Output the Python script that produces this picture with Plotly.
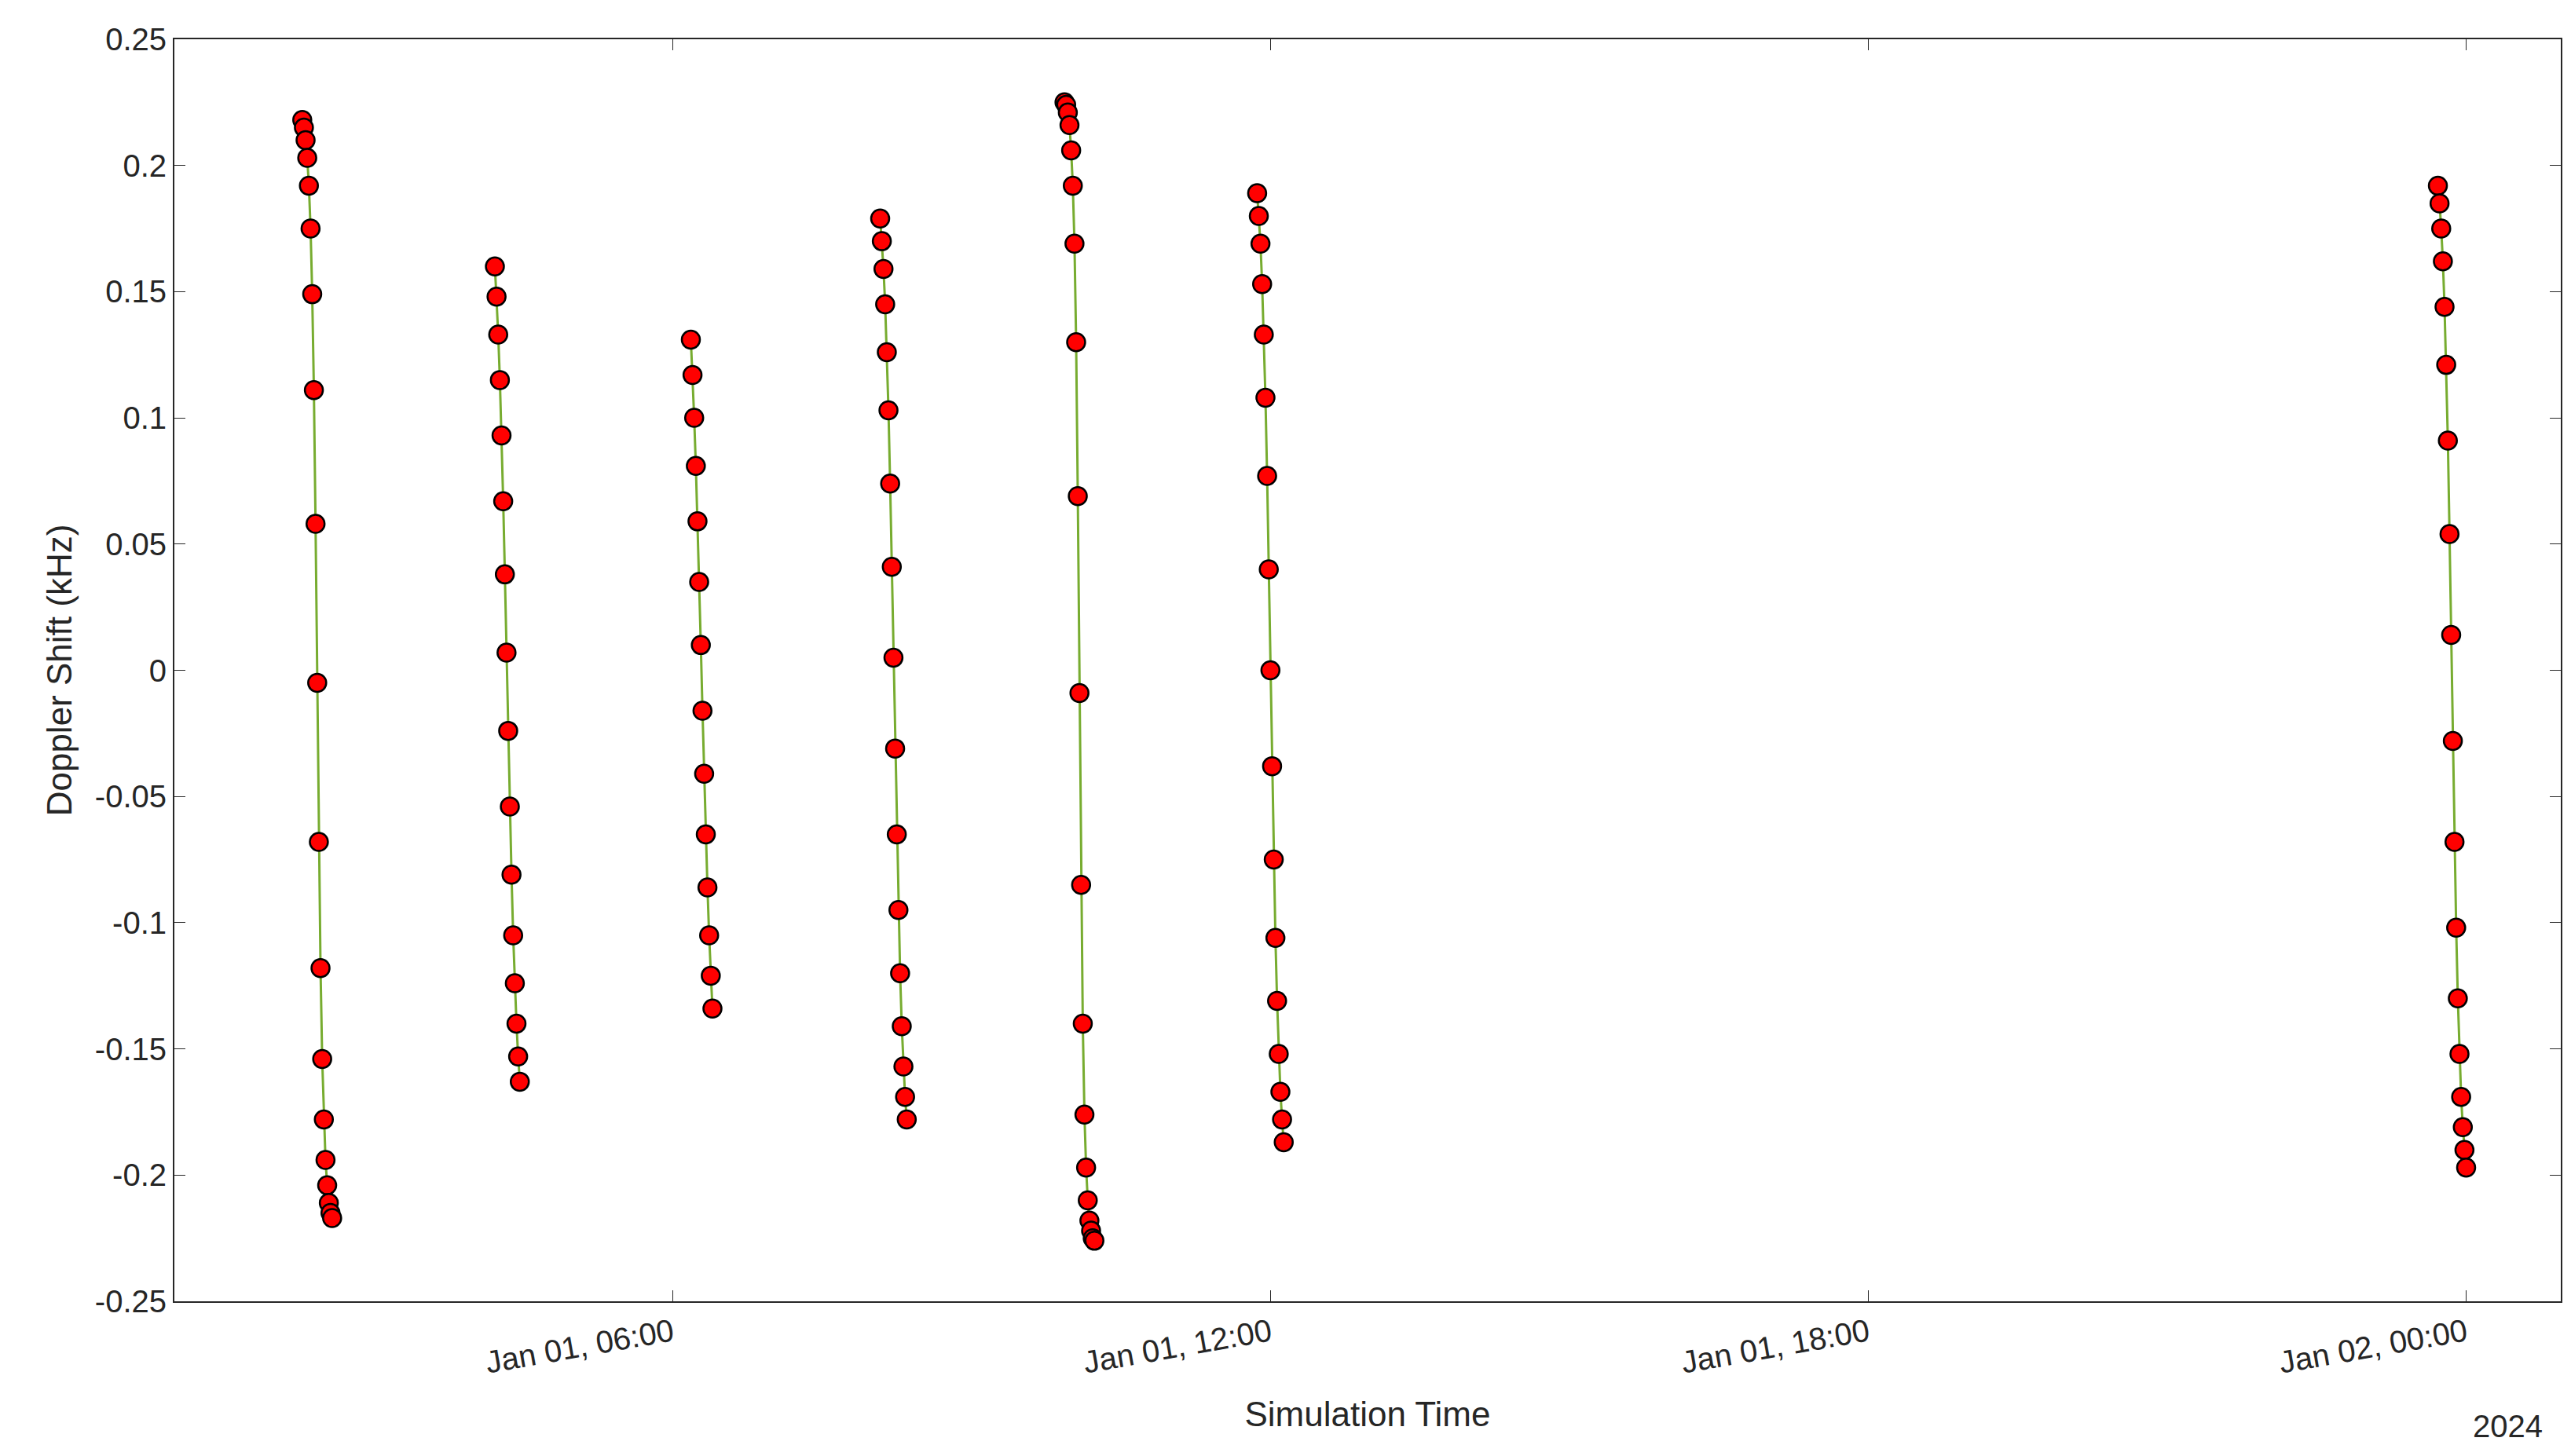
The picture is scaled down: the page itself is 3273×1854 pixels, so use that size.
import plotly.graph_objects as go
import pandas as pd

pass_starts = ["2024-01-01 02:17", "2024-01-01 04:13", "2024-01-01 06:11",
               "2024-01-01 08:05", "2024-01-01 09:56", "2024-01-01 11:52",
               "2024-01-01 23:43"]
pass_values = [
    [0.218,0.215,0.210,0.203,0.192,0.175,0.149,0.111,0.058,-0.005,-0.068,-0.118,-0.154,-0.178,-0.194,-0.204,-0.211,-0.215,-0.217],
    [0.160,0.148,0.133,0.115,0.093,0.067,0.038,0.007,-0.024,-0.054,-0.081,-0.105,-0.124,-0.140,-0.153,-0.163],
    [0.131,0.117,0.100,0.081,0.059,0.035,0.010,-0.016,-0.041,-0.065,-0.086,-0.105,-0.121,-0.134],
    [0.179,0.170,0.159,0.145,0.126,0.103,0.074,0.041,0.005,-0.031,-0.065,-0.095,-0.120,-0.141,-0.157,-0.169,-0.178],
    [0.225,0.224,0.221,0.216,0.206,0.192,0.169,0.130,0.069,-0.009,-0.085,-0.140,-0.176,-0.197,-0.210,-0.218,-0.222,-0.225,-0.226],
    [0.189,0.180,0.169,0.153,0.133,0.108,0.077,0.040,0.000,-0.038,-0.075,-0.106,-0.131,-0.152,-0.167,-0.178,-0.187],
    [0.192,0.185,0.175,0.162,0.144,0.121,0.091,0.054,0.014,-0.028,-0.068,-0.102,-0.130,-0.152,-0.169,-0.181,-0.190,-0.197],
]
y_ticks = [-0.25,-0.2,-0.15,-0.1,-0.05,0,0.05,0.1,0.15,0.2,0.25]
y_labels = ["-0.25","-0.2","-0.15","-0.1","-0.05","0","0.05","0.1","0.15","0.2","0.25"]
x_ticks = ["2024-01-01 06:00","2024-01-01 12:00","2024-01-01 18:00","2024-01-02 00:00"]

fig = go.Figure()
for start, vals in zip(pass_starts, pass_values):
    t = pd.date_range(start, periods=len(vals), freq="1min")
    fig.add_trace(go.Scatter(x=t, y=vals, mode="lines+markers",
        line=dict(color="#77AC30", width=3),
        marker=dict(color="#FF0000", size=23, line=dict(color="black", width=2.5)),
        showlegend=False))

font = "Liberation Sans, Arial"
axis_common = dict(showline=True, linecolor="#262626", linewidth=2, mirror="ticks",
                   ticks="inside", ticklen=14, tickcolor="#262626", showgrid=False, zeroline=False,
                   tickfont=dict(family=font, size=40, color="#262626"))
fig.update_layout(
    width=3273, height=1854, plot_bgcolor="white", paper_bgcolor="white",
    margin=dict(l=214, r=21, t=42, b=205),
    xaxis=dict(range=["2024-01-01 01:00", "2024-01-02 00:57"], tickvals=x_ticks,
               tickformat="%b %d, %H:%M", tickangle=-10,
               title=dict(text="Simulation Time", font=dict(family=font, size=44, color="#262626"), standoff=30),
               **axis_common),
    yaxis=dict(range=[-0.25, 0.25], tickvals=y_ticks, ticktext=y_labels,
               title=dict(text="Doppler Shift (kHz)", font=dict(family=font, size=44, color="#262626"), standoff=15),
               **axis_common),
    annotations=[dict(text="2024", xref="paper", yref="paper", x=0.993, y=-0.099,
                      xanchor="right", yanchor="middle", showarrow=False,
                      font=dict(family=font, size=40, color="#262626"))],
)
fig.write_html("out.html")
